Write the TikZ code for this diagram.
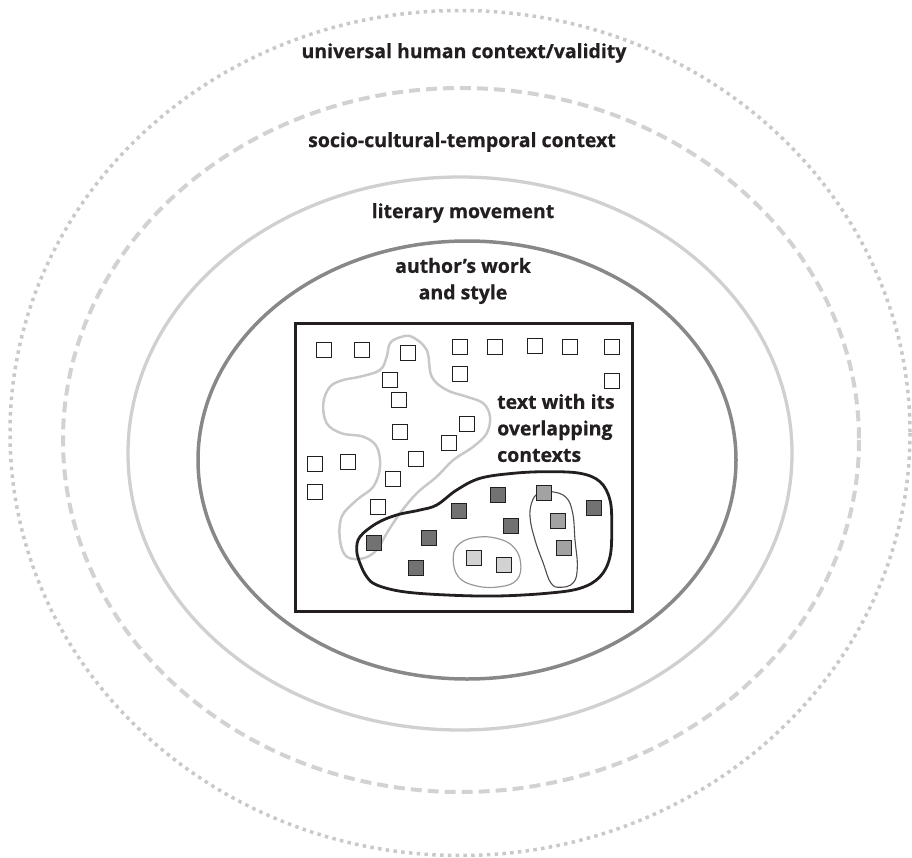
\documentclass[tikz,border=0pt]{standalone}
\usepackage{fontspec}
\setmainfont{Open Sans}[BoldFeatures={FakeBold=0.6}]
\definecolor{ink}{HTML}{231F20}
\definecolor{ringdot}{HTML}{C9C9C9}
\definecolor{ringdash}{HTML}{D2D2D2}
\definecolor{ringlight}{HTML}{D0D0D0}
\definecolor{ringdark}{HTML}{888888}
\definecolor{blobgray}{HTML}{C8C8C8}
\definecolor{sqdark}{HTML}{727272}
\definecolor{sqmid}{HTML}{A2A2A2}
\definecolor{sqlight}{HTML}{D2D2D2}
\tikzset{
  lbl/.style={font=\bfseries\fontsize{19.5}{26.5}\selectfont, text=ink, inner sep=0pt},
  sqbase/.style={draw=ink, line width=1.4pt, minimum size=14.5pt, inner sep=0pt},
  wsq/.style={sqbase, fill=white},
  dsq/.style={sqbase, fill=sqdark},
  msq/.style={sqbase, fill=sqmid},
  lsq/.style={sqbase, fill=sqlight},
}
\begin{document}
\begin{tikzpicture}[x=1pt, y=-1pt]
\useasboundingbox (0,0) rectangle (912,858);

% nested contexts
\draw[ringdot, line width=3.5pt, dash pattern=on 3.5pt off 4.3pt] (460,433) ellipse [x radius=450, y radius=422.5];
\draw[ringdash, line width=4pt, dash pattern=on 11pt off 6pt] (461,440) ellipse [x radius=398, y radius=352];
\draw[ringlight, line width=3.3pt] (460,453.5) ellipse [x radius=332, y radius=276.5];
\draw[ringdark, line width=3.5pt] (467,460) ellipse [x radius=269, y radius=219];

% the text
\draw[ink, line width=3.3pt] (295.5,323.3) rectangle (632.3,611.3);

% overlapping context regions
\draw[blobgray, line width=2.5pt] plot[smooth cycle, tension=0.6] coordinates {
  (411.7,336.7) (426.7,350) (431.7,376.7) (446.7,390) (466.7,396.7) (483.3,403.3)
  (490,416.7) (486.7,433.3) (473.3,446.7) (453.3,460) (436.7,476.7) (416.7,493.3)
  (400,513.3) (386.7,533.3) (376.7,550) (363.3,558.3) (346.7,556.7) (340,540)
  (341.7,516.7) (356.7,500) (373.3,486.7) (380,466.7) (376.7,446.7) (363.3,436.7)
  (341.7,433.3) (326.7,423.3) (323.3,403.3) (330,386.7) (343.3,380) (360,376.7)
  (380,370) (386.7,356.7) (390,343.3) (400,337.3)};
\draw[ink, line width=2.8pt] plot[smooth cycle, tension=0.6] coordinates {
  (360,536.7) (376.7,523.3) (396.7,515) (420,510) (436.7,505) (456.7,490)
  (480,478.3) (513.3,473.3) (546.7,471.7) (580,473.3) (600,481.7) (610,500)
  (611.7,526.7) (610,556.7) (600,576.7) (580,588.3) (546.7,593.3) (496.7,596)
  (446.7,595) (403.3,591.7) (376.7,585) (366.7,576.7) (360,563.3) (356.7,550)};
\draw[gray!80, line width=1.2pt] plot[smooth cycle, tension=0.7] coordinates {
  (453.3,556.7) (460,543.3) (476.7,537.3) (496.7,538.3) (513.3,546.7) (520.7,563.3)
  (516.7,580) (500,586.7) (476.7,586) (458.3,576.7)};
\draw[ink!80, line width=1.1pt] plot[smooth cycle, tension=0.7] coordinates {
  (551.7,491.7) (566,497.3) (572.7,513.3) (575,540) (577.3,566.7) (573.3,582.7)
  (560,587.3) (550.7,582.7) (543.3,563.3) (535,540) (530,516.7) (532.7,500) (540,492.7)};

% elements of the text
\foreach \p [count=\i] in {(324,350),(362,350),(408,353),(460,347),(495,347),(535,346),
  (570,347),(612,347),(390,380),(460,374),(612,381),(399,400),(400,432),(467,424),
  (449,443),(416,459),(315,464),(348,462),(393,479),(315,492),(378,507)}
  \node[wsq] (w\i) at \p {};
\foreach \p [count=\i] in {(374,543),(429,538),(416,568),(459,511),(498,495),(511,526),(594,508)}
  \node[dsq] (d\i) at \p {};
\foreach \p [count=\i] in {(544,493),(558,521),(564,548)}
  \node[msq] (m\i) at \p {};
\foreach \p [count=\i] in {(474,558),(504,565)}
  \node[lsq] (l\i) at \p {};

% labels
\node[lbl] (universal) at (464,53) {universal human context/validity};
\node[lbl] (socio) at (462,142) {socio-cultural-temporal context};
\node[lbl] (literary) at (463,213) {literary movement};
\node[lbl, align=center] (author) at (463,281) {author’s work\\and style};
\node[lbl, align=left, anchor=west] (textlbl) at (497,428) {text with its\\overlapping\\contexts};
\end{tikzpicture}
\end{document}
